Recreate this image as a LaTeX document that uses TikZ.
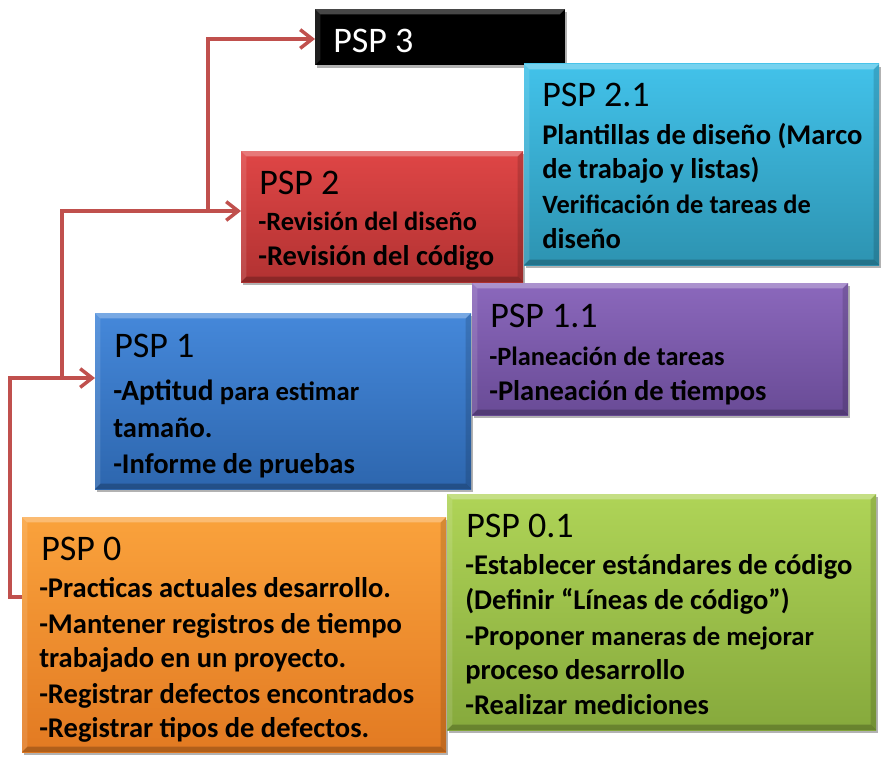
\documentclass[tikz,border=0pt]{standalone}
\usepackage{fontspec}
\setmainfont{Carlito}
\usetikzlibrary{arrows.meta,shadows,calc}
\definecolor{orT}{HTML}{FAA23C}\definecolor{orB}{HTML}{E27A22}
\definecolor{grT}{HTML}{AFD457}\definecolor{grB}{HTML}{86A93C}
\definecolor{blT}{HTML}{4588DA}\definecolor{blB}{HTML}{2D66AE}
\definecolor{puT}{HTML}{8B68BC}\definecolor{puB}{HTML}{694B96}
\definecolor{reT}{HTML}{DF4646}\definecolor{reB}{HTML}{B23232}
\definecolor{cyT}{HTML}{42C2EA}\definecolor{cyB}{HTML}{2D93B1}
\definecolor{conncol}{HTML}{C0504D}
\newcommand\psptitle{\fontsize{27}{30}\selectfont}
\newcommand\pspbody{\bfseries\fontsize{21.4}{25}\selectfont}
\newcommand\pspsmall{\bfseries\fontsize{19.8}{23}\selectfont}
\begin{document}
\begin{tikzpicture}[x=0.75pt,y=-0.75pt,
  pspbox/.style={rectangle, inner sep=0pt, outer sep=0pt, anchor=north west,
    drop shadow={shadow xshift=1.5pt, shadow yshift=-2.5pt, opacity=0.3, fill=black},
    path picture={
      \fill[white,opacity=0.28] (path picture bounding box.north west) -- (path picture bounding box.north east)
        -- ([xshift=-4pt,yshift=-4pt]path picture bounding box.north east) -- ([xshift=4pt,yshift=-4pt]path picture bounding box.north west) -- cycle;
      \fill[white,opacity=0.12] (path picture bounding box.north west) -- (path picture bounding box.south west)
        -- ([xshift=4pt,yshift=4pt]path picture bounding box.south west) -- ([xshift=4pt,yshift=-4pt]path picture bounding box.north west) -- cycle;
      \fill[black,opacity=0.22] (path picture bounding box.south west) -- (path picture bounding box.south east)
        -- ([xshift=-4pt,yshift=4pt]path picture bounding box.south east) -- ([xshift=4pt,yshift=4pt]path picture bounding box.south west) -- cycle;
      \fill[black,opacity=0.14] (path picture bounding box.north east) -- (path picture bounding box.south east)
        -- ([xshift=-4pt,yshift=4pt]path picture bounding box.south east) -- ([xshift=-4pt,yshift=-4pt]path picture bounding box.north east) -- cycle;
    }},
  ttl/.style={anchor=base west, inner sep=0pt, font=\psptitle},
  bl/.style={anchor=base west, inner sep=0pt, font=\pspbody},
  sl/.style={anchor=base west, inner sep=0pt, font=\pspsmall},
  conn/.style={draw=conncol, line width=2.6pt, -{Straight Barb[length=9pt,width=14pt,line width=2.6pt]}}
]
\useasboundingbox (0,0) rectangle (892,767);
\fill[white] (0,0) rectangle (892,767);

% boxes
\node[pspbox, top color=orT, bottom color=orB, minimum width=318pt, minimum height=176.25pt] (p0) at (22,517) {};
\node[pspbox, top color=blT, bottom color=blB, minimum width=282pt, minimum height=132pt] (p1) at (95,313) {};
\node[pspbox, top color=reT, bottom color=reB, minimum width=211.5pt, minimum height=98.25pt] (p2) at (241,151) {};
\node[pspbox, fill=black, minimum width=187.5pt, minimum height=42pt] (p3) at (315,9) {};
\node[pspbox, top color=grT, bottom color=grB, minimum width=321.75pt, minimum height=177pt] (p01) at (447,494) {};
\node[pspbox, top color=puT, bottom color=puB, minimum width=282pt, minimum height=99pt] (p11) at (472,283) {};
\node[pspbox, top color=cyT, bottom color=cyB, minimum width=266.25pt, minimum height=150.75pt] (p21) at (524,64) {};

% texts
\node[ttl, text=white] (t3) at (333,53) {PSP 3};

\node[ttl] (t21) at (542,107) {PSP 2.1};
\node[bl] (t21a) at (542,144) {Plantillas de diseño (Marco};
\node[bl] (t21b) at (542,178) {de trabajo y listas)};
\node[sl] (t21c) at (542,213) {Verificación de tareas de};
\node[bl] (t21d) at (542,248) {diseño};

\node[ttl] (t2) at (259,194) {PSP 2};
\node[sl] (t2a) at (258,230) {-Revisión del diseño};
\node[bl] (t2b) at (258,265) {-Revisión del código};

\node[ttl] (t11) at (490,327) {PSP 1.1};
\node[sl] (t11a) at (489,365) {-Planeación de tareas};
\node[bl] (t11b) at (489,400) {-Planeación de tiempos};

\node[ttl] (t1) at (114,357) {PSP 1};
\node[bl] (t1a) at (113,400) {{\fontsize{22}{26}\selectfont -Aptitud} {\fontsize{20}{23}\selectfont para estimar}};
\node[bl] (t1b) at (113,437) {tamaño.};
\node[bl] (t1c) at (113,473) {-Informe de pruebas};

\node[ttl] (t01) at (466,537) {PSP 0.1};
\node[bl] (t01a) at (465,574) {-Establecer estándares de código};
\node[bl] (t01b) at (465,609) {(Definir “Líneas de código”)};
\node[bl] (t01c) at (465,645) {-Proponer {\fontsize{20}{23}\selectfont maneras de mejorar}};
\node[bl] (t01d) at (465,679) {proceso desarrollo};
\node[bl] (t01e) at (465,714) {-Realizar mediciones};

\node[ttl] (t0) at (41,560) {PSP 0};
\node[bl] (t0a) at (39,597) {-Practicas actuales desarrollo.};
\node[bl] (t0b) at (39,633) {-Mantener registros de tiempo};
\node[bl] (t0c) at (39,667) {trabajado en un proyecto.};
\node[bl] (t0d) at (39,703) {-Registrar defectos encontrados};
\node[bl] (t0e) at (39,737) {-Registrar tipos de defectos.};

% connectors
\coordinate (b1) at (62,378);
\coordinate (b2) at (208,211);
\draw[conn] ($(p0.north west)+(0,80)$) -- ++(-12,0) |- ($(p1.north west)+(0,65)$);
\draw[conn] (b1) |- ($(p2.north west)+(0,60)$);
\draw[conn] (b2) |- ($(p3.north west)+(0,30)$);
\end{tikzpicture}
\end{document}
